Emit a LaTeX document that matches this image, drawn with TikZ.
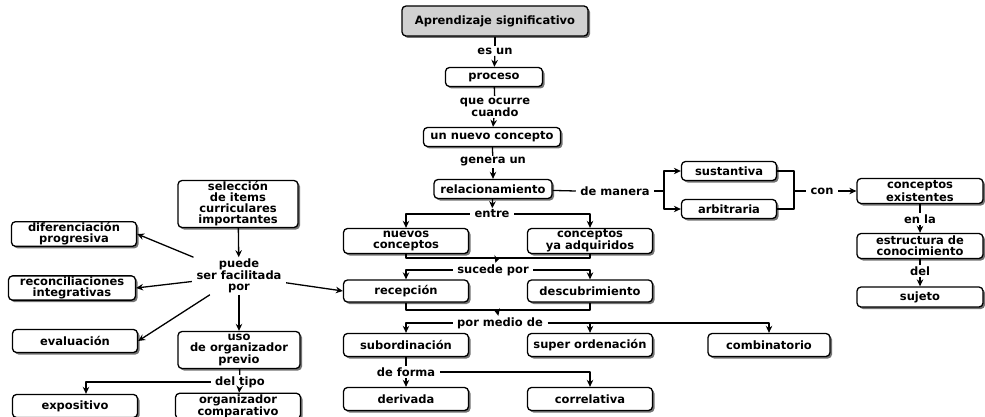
\documentclass[tikz,border=0pt]{standalone}
\usepackage{fontspec}
\setmainfont{DejaVu Sans}
\usetikzlibrary{shadows,arrows.meta}

\begin{document}
\begin{tikzpicture}[x=1pt, y=-1pt, line join=round, >={Stealth[length=7pt,width=6.5pt]}, line width=1.3pt,
	font=\bfseries\fontsize{11.5}{11}\selectfont,
	concepto/.style={draw, rounded corners=4pt, fill=white, align=center, inner sep=1pt,
		minimum width=125pt, minimum height=23pt,
		drop shadow={shadow xshift=2pt, shadow yshift=-2pt, fill=black!55, opacity=1}},
	enlace/.style={align=center, inner xsep=4pt, inner ysep=1pt}]
	\useasboundingbox (0,0) rectangle (985,417);
	%\tikzset{concepto/.append style={font=\small}}
	\node[concepto, fill=black!18, minimum width=186pt, minimum height=30pt] (apr) at (495,21) {Aprendizaje significativo};
	\node[concepto, minimum width=97pt, minimum height=19pt] (proc) at (494,77) {proceso};
	\node[concepto, minimum width=137pt, minimum height=19pt] (nuevo) at (492,137) {un nuevo concepto};
	\node[concepto, minimum width=118pt, minimum height=19pt] (rel) at (493,189) {relacionamiento};
	\node[concepto, minimum width=95pt, minimum height=19pt] (sust) at (729,171) {sustantiva};
	\node[concepto, minimum width=95pt, minimum height=19pt] (arb) at (729,209) {arbitraria};
	\node[concepto, minimum width=126pt, minimum height=25pt] (exist) at (920,191) {conceptos\\existentes};
	\node[concepto, minimum width=126pt, minimum height=25pt] (estruc) at (920,246) {estructura de\\conocimiento};
	\node[concepto, minimum width=126pt, minimum height=20pt] (sujeto) at (920,297) {sujeto};
	\node[concepto, minimum height=25pt] (nuevos) at (406,241) {nuevos\\conceptos};
	\node[concepto, minimum height=25pt] (adquir) at (590,241) {conceptos\\ya adquiridos};
	\node[concepto, minimum height=22pt] (recep) at (406,291) {recepción};
	\node[concepto, minimum height=22pt] (descub) at (590,291) {descubrimiento};
	\node[concepto] (subord) at (406,345) {subordinación};
	\node[concepto] (super) at (590,345) {super ordenación};
	\node[concepto, minimum width=122pt] (combin) at (769,345) {combinatorio};
	\node[concepto] (deriv) at (406,399) {derivada};
	\node[concepto] (correl) at (590,399) {correlativa};
	\node[concepto, minimum width=120pt, minimum height=47pt] (selec) at (238,204) {selección\\de items\\curriculares\\importantes};
	\node[concepto, minimum height=24pt] (difer) at (74,234) {diferenciación\\progresiva};
	\node[concepto, minimum width=127pt, minimum height=24pt] (recon) at (72,288) {reconciliaciones\\integrativas};
	\node[concepto] (evalu) at (75,341) {evaluación};
	\node[concepto, minimum width=122pt, minimum height=37pt] (uso) at (239,350) {uso\\de organizador\\previo};
	\node[concepto] (expos) at (75,406) {expositivo};
	\node[concepto, minimum height=25pt] (compar) at (238,406) {organizador\\comparativo};

	\node[enlace] (esun) at (495,51) {es un};
	\node[enlace] (ocurre) at (495,107) {que ocurre\\cuando};
	\node[enlace] (genera) at (493,162) {genera un};
	\node[enlace] (entre) at (492,214) {entre};
	\node[enlace] (manera) at (615,191) {de manera};
	\node[enlace] (con) at (822,191) {con};
	\node[enlace] (enla) at (920,219) {en la};
	\node[enlace] (del) at (920,271) {del};
	\node[enlace] (sucede) at (493,270) {sucede por};
	\node[enlace] (medio) at (500,323) {por medio de};
	\node[enlace] (forma) at (406,372) {de forma};
	\node[enlace] (puede) at (239,276) {puede\\ser facilitada\\por};
	\node[enlace] (tipo) at (240,382) {del tipo};
	\coordinate (j1) at (497,258);
	\coordinate (j2) at (497,310);
	\coordinate (b1) at (664,191);
	\coordinate (b2) at (794,191);

	\draw (apr) -- (esun); \draw[->] (esun) -- (proc);
	\draw (proc) -- (ocurre); \draw[->] (ocurre) -- (nuevo);
	\draw (nuevo) -- (genera); \draw[->] (genera) -- (rel);
	\draw[->] (rel) -- (entre);
	\draw[->] (entre.west) -| (nuevos); \draw[->] (entre.east) -| (adquir);
	\draw (nuevos) |- (j1) -| (adquir); \draw[->] (j1) -- (sucede);
	\draw[->] (sucede.west) -| (recep); \draw[->] (sucede.east) -| (descub);
	\draw (recep) |- (j2) -| (descub); \draw[->] (j2) -- (medio);
	\draw[->] (medio.west) -| (subord); \draw[->] (medio.east) -| (combin);
	\draw[->] (super |- medio) -- (super);
	\draw (subord) -- (forma); \draw[->] (forma) -- (deriv);
	\draw[->] (forma.east) -| (correl);
	\draw (rel) -- (manera.west); \draw (manera.east) -- (b1);
	\draw[->] (b1) |- (sust); \draw[->] (b1) |- (arb);
	\draw (sust) -| (b2) |- (arb);
	\draw (b2) -- (con); \draw[->] (con) -- (exist);
	\draw (exist) -- (enla); \draw[->] (enla) -- (estruc);
	\draw (estruc) -- (del); \draw[->] (del) -- (sujeto);
	\draw[->] (selec) -- (puede);
	\draw[->] (puede) -- (difer.east);
	\draw[->] (puede) -- (recon.east);
	\draw[->] (puede) -- (evalu.east);
	\draw[->] (puede) -- (recep.west);
	\draw[->] (puede) -- (uso);
	\draw (uso) -- (tipo); \draw[->] (tipo) -- (compar);
	\draw[->] (tipo.west) -| ([xshift=11pt]expos.north);
\end{tikzpicture}
\end{document}
